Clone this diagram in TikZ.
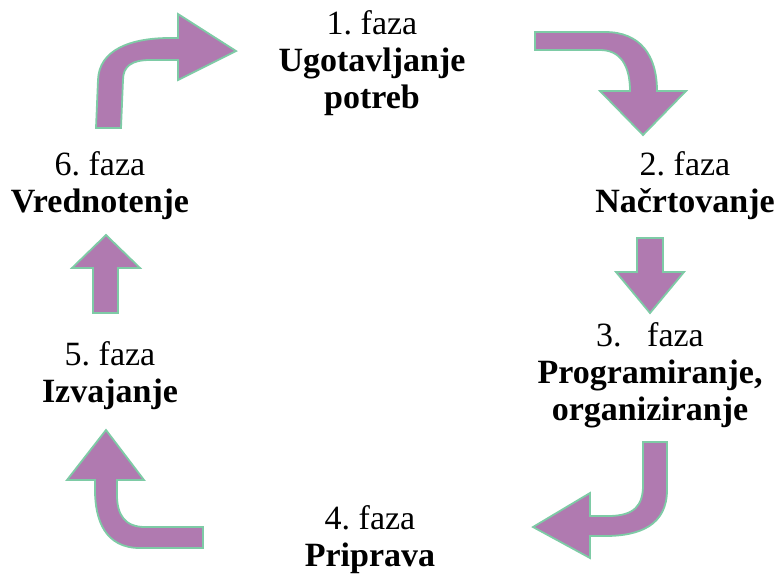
\documentclass[tikz,border=0pt]{standalone}
\usepackage{fontspec}
\setmainfont{Liberation Serif}
\frenchspacing

\definecolor{arrowfill}{HTML}{B07AB0}
\definecolor{arrowline}{HTML}{7ECBA6}

\begin{document}
\begin{tikzpicture}[x=1pt,y=-1pt]
\tikzstyle{every node}=[font=\fontsize{34}{37}\selectfont,align=center,inner sep=0pt]
\tikzstyle{blockarrow}=[fill=arrowfill,draw=arrowline,line width=1.8pt,line join=miter]
 \useasboundingbox (0,0) rectangle (775,574);
 \node (faza1) at (372,63)  {1. faza\\\textbf{Ugotavljanje}\\\textbf{potreb}};
 \node (faza2) at (685,186) {2. faza\\\textbf{Načrtovanje}};
 \node (faza3) at (650,375) {3.~~~faza\\\textbf{Programiranje,}\\\textbf{organiziranje}};
 \node (faza4) at (370,540) {4. faza\\\textbf{Priprava}};
 \node (faza5) at (110,376) {5. faza\\\textbf{Izvajanje}};
 \node (faza6) at (100,186) {6. faza\\\textbf{Vrednotenje}};
 % 6 -> 1
 \draw[blockarrow]
 (96,128) -- (98,80) .. controls (99,50) and (130,38) .. (170,38) -- (178,38)
 -- (178,14) -- (236,51) -- (178,80) -- (178,60) -- (150,60)
 .. controls (132,60) and (123,66) .. (123,80) -- (121,128) -- cycle;
 % 1 -> 2
 \draw[blockarrow]
 (535,32) -- (605,32) .. controls (640,32) and (657,55) .. (657,91)
 -- (686,91) -- (643,135) -- (600,91) -- (630,91)
 .. controls (630,65) and (620,50) .. (600,50) -- (535,50) -- cycle;
 % 2 -> 3
 \draw[blockarrow]
 (637,238) -- (663,238) -- (663,272) -- (684,272) -- (650,313)
 -- (616,272) -- (637,272) -- cycle;
 % 3 -> 4
 \draw[blockarrow]
 (643,442) -- (667,442) -- (667,490) .. controls (667,525) and (640,536) .. (605,536)
 -- (590,536) -- (590,558) -- (533,527) -- (590,493) -- (590,516) -- (608,516)
 .. controls (635,516) and (643,505) .. (643,485) -- cycle;
 % 4 -> 5
 \draw[blockarrow]
 (203,548) -- (140,548) .. controls (105,548) and (95,520) .. (95,490) -- (95,480)
 -- (67,480) -- (106,430) -- (144,480) -- (117,480) -- (117,495)
 .. controls (117,515) and (125,527) .. (145,527) -- (203,527) -- cycle;
 % 5 -> 6
 \draw[blockarrow]
 (93,313) -- (93,268) -- (72,268) -- (106,235) -- (140,268)
 -- (118,268) -- (118,313) -- cycle;
\end{tikzpicture}
\end{document}
